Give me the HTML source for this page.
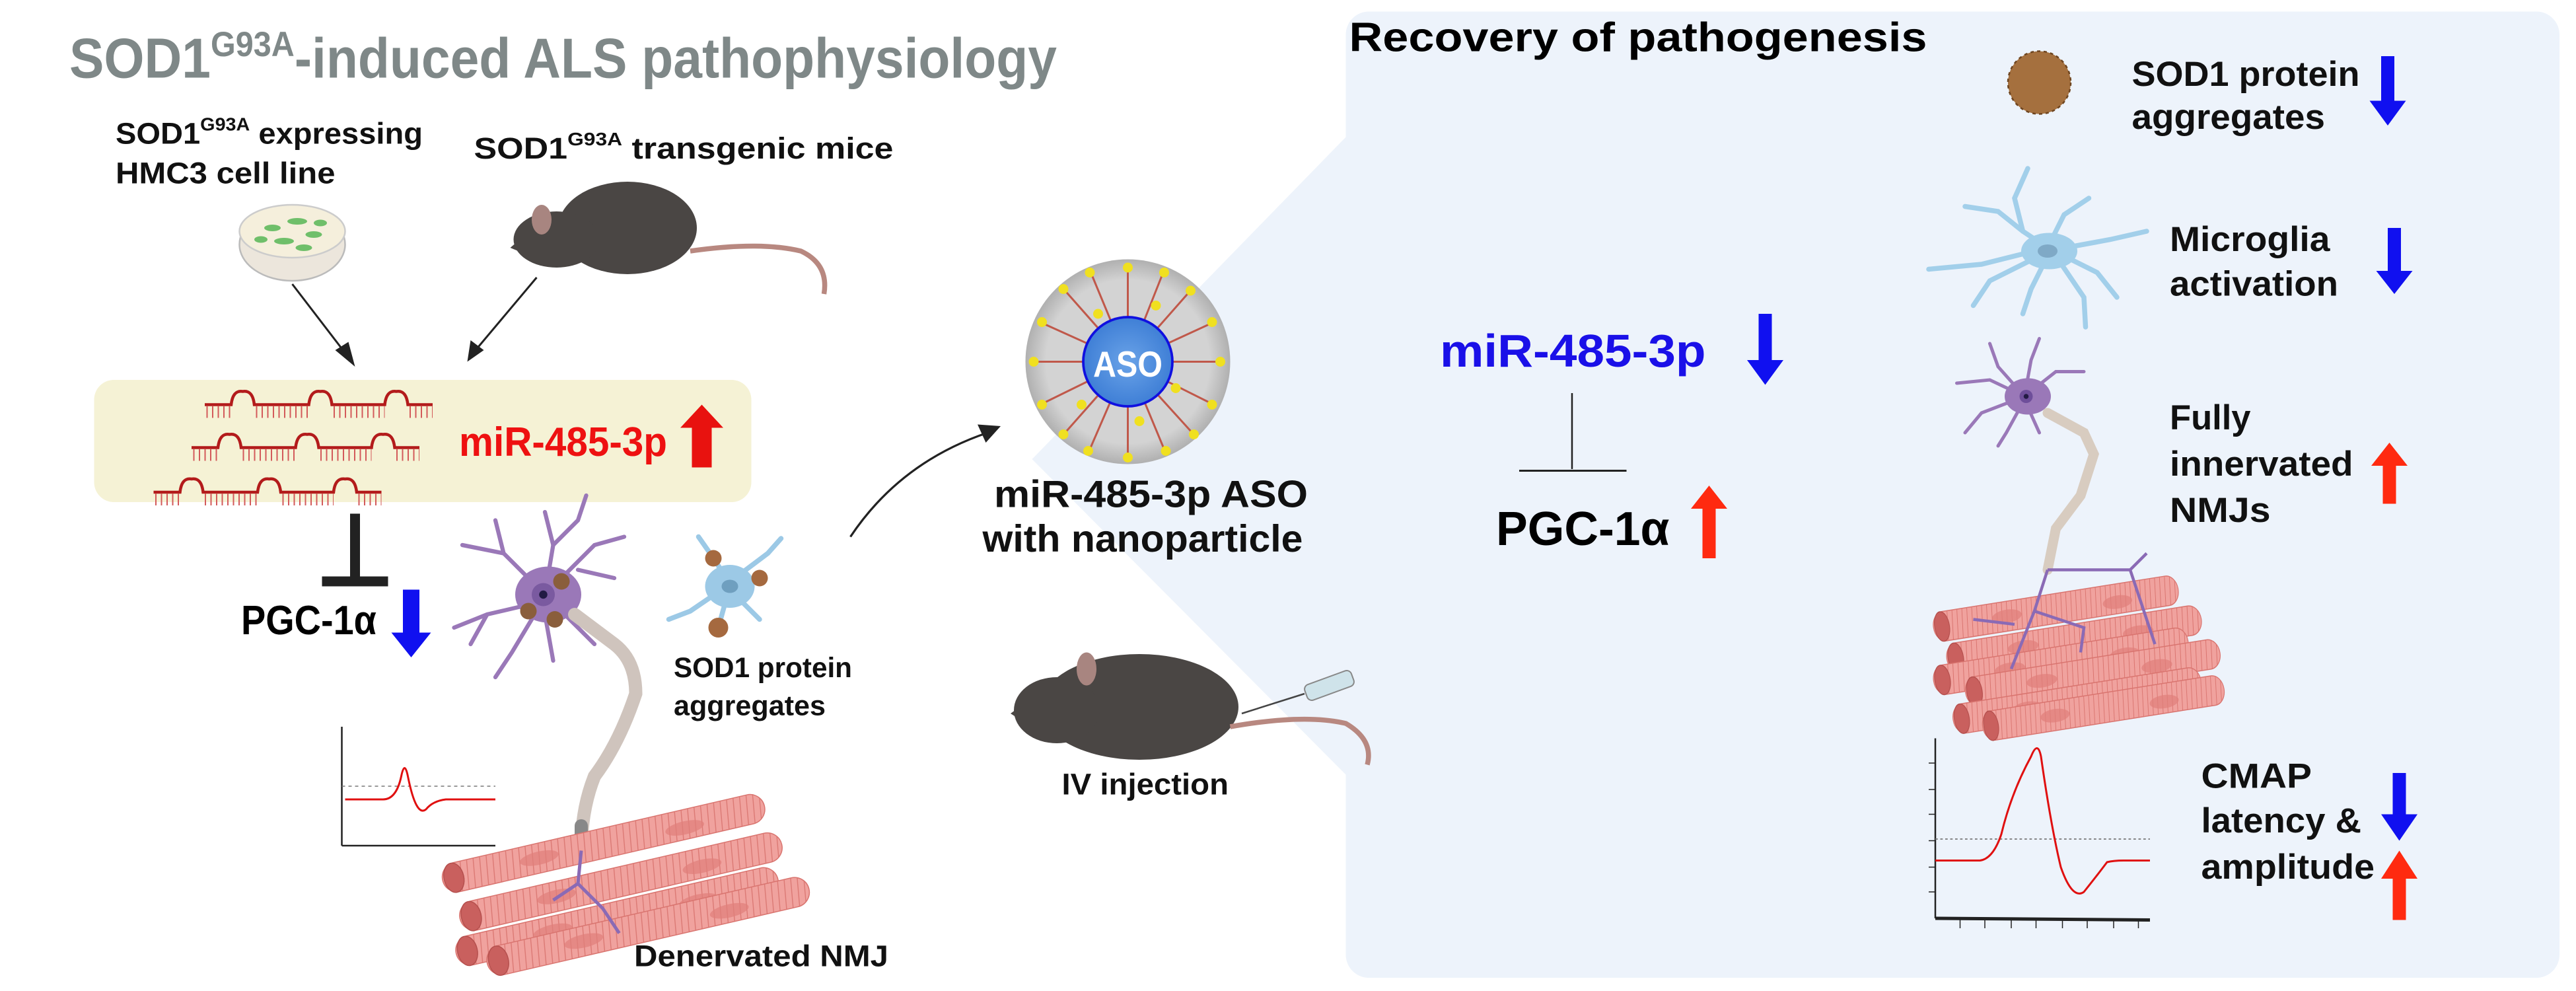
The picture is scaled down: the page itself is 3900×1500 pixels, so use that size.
<!DOCTYPE html>
<html><head><meta charset="utf-8"><style>
html,body{margin:0;padding:0;background:#fff;}
svg{display:block;}
text{font-family:"Liberation Sans Narrow","Liberation Sans",sans-serif;font-weight:bold;}
</style></head><body>
<svg width="3900" height="1500" viewBox="0 0 1560 600" xmlns="http://www.w3.org/2000/svg">
<defs>
<pattern id="stripe" width="4" height="10" patternUnits="userSpaceOnUse" patternTransform="rotate(8)">
<rect width="4" height="10" fill="#f0a29e"/><line x1="3.5" y1="0" x2="3.5" y2="10" stroke="#d9746f" stroke-width="0.5"/>
</pattern>
<g id="fib">
<rect x="0" y="-9" width="200" height="18" rx="9" fill="url(#stripe)" stroke="#d9746f" stroke-width="0.6"/>
<ellipse cx="60" cy="0" rx="12" ry="4" fill="#e07f7a" opacity="0.7"/>
<ellipse cx="150" cy="2" rx="12" ry="4" fill="#e07f7a" opacity="0.7"/>
<ellipse cx="7" cy="0" rx="6" ry="9" fill="#c9605e" stroke="#b5504e" stroke-width="0.6"/>
</g>
<g id="rna" fill="none" stroke="#b31b1b">
<path d="M0 0 H16 Q17 -9 23 -8 Q29 -9 30 0 H63 Q64 -9 70 -8 Q76 -9 77 0 H109 Q110 -9 116 -8 Q122 -9 123 0 H138" stroke-width="1.8"/>
<path d="M1 4.5 H16 M31 4.5 H63 M78 4.5 H109 M124 4.5 H138" stroke="#d35a5a" stroke-width="7" stroke-dasharray="0.8 2.6"/>
</g>
<radialGradient id="np" cx="50%" cy="50%" r="50%"><stop offset="0.8" stop-color="#d3d3d3"/><stop offset="1" stop-color="#b0b0b0"/></radialGradient>
<radialGradient id="core" cx="50%" cy="50%" r="50%"><stop offset="0" stop-color="#6aa3e8"/><stop offset="1" stop-color="#3f7fd6"/></radialGradient>
</defs>

<polygon points="625,278 816,82 816,470" fill="#edf3fb"/>
<rect x="815" y="7" width="735" height="585" rx="14" fill="#edf3fb"/>

<text x="42" y="47" font-size="34" fill="#7f8888" textLength="598" lengthAdjust="spacingAndGlyphs">SOD1<tspan font-size="21" dy="-13">G93A</tspan><tspan dy="13">-induced ALS pathophysiology</tspan></text>

<text x="70" y="87" font-size="18" fill="#111" textLength="186" lengthAdjust="spacingAndGlyphs">SOD1<tspan font-size="11" dy="-8">G93A</tspan><tspan dy="8"> expressing</tspan></text>
<text x="70" y="111" font-size="18" fill="#111" textLength="133" lengthAdjust="spacingAndGlyphs">HMC3 cell line</text>
<text x="287" y="96" font-size="18" fill="#111" textLength="254" lengthAdjust="spacingAndGlyphs">SOD1<tspan font-size="11" dy="-8">G93A</tspan><tspan dy="8">  transgenic mice</tspan></text>

<ellipse cx="177" cy="148" rx="32" ry="22" fill="#ece6dc" stroke="#bbb" stroke-width="1"/>
<ellipse cx="177" cy="140" rx="32" ry="16" fill="#f5efdc" stroke="#ccc" stroke-width="1"/>
<g fill="#6fbf6a"><ellipse cx="165" cy="138" rx="5" ry="2"/><ellipse cx="180" cy="134" rx="6" ry="2"/><ellipse cx="190" cy="142" rx="5" ry="2"/><ellipse cx="172" cy="146" rx="6" ry="2"/><ellipse cx="158" cy="145" rx="4" ry="2"/><ellipse cx="194" cy="135" rx="4" ry="2"/><ellipse cx="184" cy="150" rx="5" ry="2"/></g>

<!-- top mouse -->
<g fill="#4a4644">
<ellipse cx="380" cy="138" rx="42" ry="28"/>
<ellipse cx="337" cy="145" rx="26" ry="17"/>
<polygon points="309,150 330,132 338,162"/>
</g>
<ellipse cx="328" cy="133" rx="6" ry="9" fill="#a88580"/>
<path d="M418 152 Q460 146 485 152 Q502 160 499 178" fill="none" stroke="#b88880" stroke-width="3"/>

<line x1="177" y1="172" x2="210" y2="215" stroke="#222" stroke-width="1.2"/>
<polygon points="215,222 203,212 211,207" fill="#222"/>
<line x1="325" y1="168" x2="288" y2="212" stroke="#222" stroke-width="1.2"/>
<polygon points="283,219 285,206 293,212" fill="#222"/>

<rect x="57" y="230" width="398" height="74" rx="12" fill="#f5f2d5"/>
<use href="#rna" x="124" y="245"/>
<use href="#rna" x="116" y="271"/>
<use href="#rna" x="93" y="298"/>
<text x="278" y="276" font-size="25" fill="#ee1111" textLength="126" lengthAdjust="spacingAndGlyphs">miR-485-3p</text>
<polygon points="419,283 419,259 412,259 425,245 438,259 431,259 431,283" fill="#e8120f"/>

<rect x="212" y="311" width="6" height="38" fill="#222"/>
<rect x="195" y="349" width="40" height="6" fill="#222"/>
<text x="146" y="384" font-size="25" fill="#000" textLength="82" lengthAdjust="spacingAndGlyphs">PGC-1α</text>
<polygon points="244,357 254,357 254,383 261,383 249,398 237,383 244,383" fill="#1010f0"/>

<g stroke="#9a78b8" stroke-width="2.5" fill="none" stroke-linecap="round">
<path d="M330 360 L305 335 L280 330"/><path d="M305 335 L300 315"/>
<path d="M330 360 L335 330 L330 310"/><path d="M335 330 L350 315 L355 300"/>
<path d="M335 355 L360 330 L378 325"/><path d="M350 345 L372 350"/>
<path d="M325 365 L295 372 L275 380"/><path d="M295 372 L285 390"/>
<path d="M325 370 L310 395 L300 410"/><path d="M330 372 L335 400"/>
<path d="M340 370 L360 390"/>
</g>
<ellipse cx="332" cy="360" rx="20" ry="17" fill="#9a78b8"/>
<circle cx="329" cy="360" r="7" fill="#7a5aa0"/><circle cx="329" cy="360" r="2.5" fill="#221a44"/>
<circle cx="320" cy="370" r="5" fill="#8a5e3c"/><circle cx="340" cy="352" r="5" fill="#8a5e3c"/><circle cx="336" cy="375" r="5" fill="#8a5e3c"/>
<path d="M348 372 L372 390 Q385 400 385 420 Q375 450 360 470 Q352 490 352 515" fill="none" stroke="#cfc4bd" stroke-width="8" stroke-linecap="round"/>
<path d="M352 500 L352 515" stroke="#888" stroke-width="8" stroke-linecap="round"/>
<g stroke="#9cc9e6" stroke-width="3" fill="none" stroke-linecap="round">
<path d="M440 355 L418 370 L405 375"/><path d="M440 350 L430 335 L423 325"/><path d="M445 350 L465 335 L473 326"/><path d="M445 360 L460 375"/><path d="M440 362 L435 380"/>
</g>
<ellipse cx="442" cy="355" rx="15" ry="13" fill="#9cc9e6"/>
<ellipse cx="442" cy="355" rx="5" ry="4" fill="#6f9fbf"/>
<circle cx="432" cy="338" r="5" fill="#a5693f"/><circle cx="460" cy="350" r="5" fill="#a5693f"/><circle cx="435" cy="380" r="6" fill="#a5693f"/>
<text x="408" y="410" font-size="17" fill="#111" textLength="108" lengthAdjust="spacingAndGlyphs">SOD1 protein</text>
<text x="408" y="433" font-size="17" fill="#111" textLength="92" lengthAdjust="spacingAndGlyphs">aggregates</text>

<g stroke="#222" stroke-width="1"><line x1="207" y1="440" x2="207" y2="512"/><line x1="207" y1="512" x2="300" y2="512"/></g>
<line x1="207" y1="476" x2="300" y2="476" stroke="#777" stroke-width="0.6" stroke-dasharray="2 2"/>
<path d="M209 484 H232 Q240 484 243 470 Q245 460 247 470 Q252 495 258 490 Q262 485 270 484 H300" fill="none" stroke="#e01010" stroke-width="1.2"/>

<g transform="rotate(-13 370 530)">
<use href="#fib" x="270" y="510"/>
<use href="#fib" x="275" y="535"/>
<use href="#fib" x="268" y="555"/>
<use href="#fib" x="285" y="565"/>
</g>
<path d="M352 515 L350 535 L335 545 M350 535 L365 550 L375 565" fill="none" stroke="#8a6ab5" stroke-width="2"/>
<text x="384" y="585" font-size="18" fill="#111" textLength="154" lengthAdjust="spacingAndGlyphs">Denervated NMJ</text>

<path d="M515 325 Q545 280 598 262" fill="none" stroke="#222" stroke-width="1.3"/>
<polygon points="606,258 592,257 597,268" fill="#222"/>

<circle cx="683" cy="219" r="62" fill="url(#np)"/>
<g stroke="#c0584a" stroke-width="1.2">
<line x1="683" y1="219" x2="683" y2="163"/><line x1="683" y1="219" x2="720" y2="177"/><line x1="683" y1="219" x2="738" y2="219"/><line x1="683" y1="219" x2="722" y2="262"/><line x1="683" y1="219" x2="683" y2="276"/><line x1="683" y1="219" x2="645" y2="262"/><line x1="683" y1="219" x2="627" y2="219"/><line x1="683" y1="219" x2="645" y2="176"/>
<line x1="683" y1="219" x2="704" y2="166"/><line x1="683" y1="219" x2="733" y2="196"/><line x1="683" y1="219" x2="733" y2="244"/><line x1="683" y1="219" x2="705" y2="272"/><line x1="683" y1="219" x2="660" y2="272"/><line x1="683" y1="219" x2="632" y2="244"/><line x1="683" y1="219" x2="632" y2="196"/><line x1="683" y1="219" x2="661" y2="166"/>
</g>
<g fill="#f0e020">
<circle cx="683" cy="162" r="3"/><circle cx="721" cy="176" r="3"/><circle cx="739" cy="219" r="3"/><circle cx="723" cy="263" r="3"/><circle cx="683" cy="277" r="3"/><circle cx="644" cy="263" r="3"/><circle cx="626" cy="219" r="3"/><circle cx="644" cy="175" r="3"/>
<circle cx="705" cy="165" r="3"/><circle cx="734" cy="195" r="3"/><circle cx="734" cy="245" r="3"/><circle cx="706" cy="273" r="3"/><circle cx="659" cy="273" r="3"/><circle cx="631" cy="245" r="3"/><circle cx="631" cy="195" r="3"/><circle cx="660" cy="165" r="3"/>
<circle cx="700" cy="185" r="3"/><circle cx="665" cy="190" r="3"/><circle cx="712" cy="235" r="3"/><circle cx="655" cy="245" r="3"/><circle cx="690" cy="255" r="3"/>
</g>
<circle cx="683" cy="219" r="27" fill="url(#core)" stroke="#1010e0" stroke-width="1.5"/>
<text x="683" y="228" font-size="22" fill="#fff" text-anchor="middle" textLength="42" lengthAdjust="spacingAndGlyphs">ASO</text>
<text x="697" y="307" font-size="23" fill="#111" text-anchor="middle" textLength="190" lengthAdjust="spacingAndGlyphs">miR-485-3p ASO</text>
<text x="692" y="334" font-size="23" fill="#111" text-anchor="middle" textLength="194" lengthAdjust="spacingAndGlyphs">with nanoparticle</text>

<g fill="#4a4644">
<ellipse cx="690" cy="428" rx="60" ry="32"/>
<ellipse cx="640" cy="430" rx="26" ry="20"/>
<polygon points="612,432 635,415 640,450"/>
</g>
<ellipse cx="658" cy="405" rx="6" ry="10" fill="#a88580"/>
<path d="M745 440 Q790 432 815 438 Q832 448 828 463" fill="none" stroke="#b88880" stroke-width="3"/>
<line x1="752" y1="432" x2="790" y2="420" stroke="#444" stroke-width="1"/>
<rect x="790" y="410" width="30" height="10" rx="3" fill="#cfe3ea" stroke="#888" stroke-width="0.8" transform="rotate(-20 805 415)"/>
<text x="643" y="481" font-size="18" fill="#111" textLength="101" lengthAdjust="spacingAndGlyphs">IV injection</text>

<text x="817" y="31" font-size="25" fill="#000" textLength="350" lengthAdjust="spacingAndGlyphs">Recovery of pathogenesis</text>

<text x="872" y="222" font-size="28" fill="#1a10e8" textLength="161" lengthAdjust="spacingAndGlyphs">miR-485-3p</text>
<polygon points="1065,190 1073,190 1073,218 1080,218 1069,233 1058,218 1065,218" fill="#1010f0"/>
<line x1="952" y1="238" x2="952" y2="284" stroke="#222" stroke-width="1"/>
<line x1="920" y1="285" x2="985" y2="285" stroke="#222" stroke-width="1.2"/>
<text x="906" y="330" font-size="29" fill="#000" textLength="105" lengthAdjust="spacingAndGlyphs">PGC-1α</text>
<polygon points="1031,338 1039,338 1039,308 1046,308 1035,294 1024,308 1031,308" fill="#ff2a10"/>

<circle cx="1235" cy="50" r="19" fill="#a5703e"/>
<circle cx="1235" cy="50" r="19" fill="none" stroke="#6e4520" stroke-width="1" stroke-dasharray="2 2"/>
<text x="1291" y="52" font-size="21" fill="#111" textLength="138" lengthAdjust="spacingAndGlyphs">SOD1 protein</text>
<text x="1291" y="78" font-size="21" fill="#111" textLength="117" lengthAdjust="spacingAndGlyphs">aggregates</text>
<polygon points="1442,34 1450,34 1450,61 1457,61 1446,76 1435,61 1442,61" fill="#1010f0"/>

<g stroke="#a2cfea" stroke-width="3" fill="none" stroke-linecap="round">
<path d="M1240 150 L1225 140 L1210 128 L1190 125"/><path d="M1225 140 L1220 120 L1228 102"/><path d="M1240 150 L1250 130 L1265 120"/>
<path d="M1240 150 L1200 160 L1168 163"/><path d="M1240 150 L1270 165 L1282 180"/><path d="M1240 152 L1278 145 L1300 140"/>
<path d="M1240 155 L1230 175 L1225 190"/><path d="M1245 155 L1262 180 L1263 198"/><path d="M1235 155 L1205 170 L1195 185"/>
</g>
<ellipse cx="1241" cy="152" rx="17" ry="11" fill="#a2cfea"/>
<ellipse cx="1240" cy="152" rx="6" ry="4" fill="#7fa9c6"/>
<text x="1314" y="152" font-size="21" fill="#111" textLength="97" lengthAdjust="spacingAndGlyphs">Microglia</text>
<text x="1314" y="179" font-size="21" fill="#111" textLength="102" lengthAdjust="spacingAndGlyphs">activation</text>
<polygon points="1446,138 1454,138 1454,164 1461,164 1450,178 1439,164 1446,164" fill="#1010f0"/>

<g stroke="#9a78b8" stroke-width="2" fill="none" stroke-linecap="round">
<path d="M1226 240 L1205 230 L1185 232"/><path d="M1226 240 L1210 222 L1205 208"/><path d="M1226 240 L1230 218 L1235 205"/><path d="M1226 240 L1245 225 L1262 225"/>
<path d="M1226 240 L1200 250 L1190 262"/><path d="M1226 242 L1215 262 L1210 270"/><path d="M1226 242 L1235 262"/>
</g>
<ellipse cx="1228" cy="240" rx="14" ry="11" fill="#9a78b8"/>
<circle cx="1227" cy="240" r="4" fill="#6e4e9a"/><circle cx="1227" cy="240" r="1.5" fill="#221a44"/>
<path d="M1240 250 L1262 262 L1268 275 L1260 300 L1245 320 L1240 345" fill="none" stroke="#d8ccc0" stroke-width="6" stroke-linecap="round"/>
<g transform="rotate(-9 1250 400)">
<g transform="translate(1175 368) scale(0.75 1)"><use href="#fib" x="0" y="0"/></g>
<g transform="translate(1180 388) scale(0.78 1)"><use href="#fib" x="0" y="0"/></g>
<g transform="translate(1170 400) scale(0.78 1)"><use href="#fib" x="0" y="0"/></g>
<g transform="translate(1188 410) scale(0.78 1)"><use href="#fib" x="0" y="0"/></g>
<g transform="translate(1178 425) scale(0.76 1)"><use href="#fib" x="0" y="0"/></g>
<g transform="translate(1195 432) scale(0.74 1)"><use href="#fib" x="0" y="0"/></g>
</g>
<path d="M1240 345 L1232 370 L1218 405 M1232 370 L1262 380 L1260 395 M1240 345 L1290 345 L1300 335 M1290 345 L1300 375 L1305 390 M1220 378 L1195 375" fill="none" stroke="#8a6ab5" stroke-width="1.8"/>
<text x="1314" y="260" font-size="21" fill="#111" textLength="49" lengthAdjust="spacingAndGlyphs">Fully</text>
<text x="1314" y="288" font-size="21" fill="#111" textLength="111" lengthAdjust="spacingAndGlyphs">innervated</text>
<text x="1314" y="316" font-size="21" fill="#111" textLength="61" lengthAdjust="spacingAndGlyphs">NMJs</text>
<polygon points="1443,305 1451,305 1451,282 1458,282 1447,268 1436,282 1443,282" fill="#ff2a10"/>

<!-- right graph -->
<g stroke="#222" stroke-width="1"><line x1="1172" y1="447" x2="1172" y2="556"/><line x1="1172" y1="556" x2="1302" y2="557" stroke-width="2"/></g>
<g stroke="#222" stroke-width="0.6">
<line x1="1168" y1="462" x2="1172" y2="462"/><line x1="1168" y1="478" x2="1172" y2="478"/><line x1="1168" y1="493" x2="1172" y2="493"/><line x1="1168" y1="509" x2="1172" y2="509"/><line x1="1168" y1="525" x2="1172" y2="525"/><line x1="1168" y1="540" x2="1172" y2="540"/>
<line x1="1187" y1="557" x2="1187" y2="562"/><line x1="1202" y1="557" x2="1202" y2="562"/><line x1="1218" y1="557" x2="1218" y2="562"/><line x1="1233" y1="557" x2="1233" y2="562"/><line x1="1249" y1="557" x2="1249" y2="562"/><line x1="1264" y1="557" x2="1264" y2="562"/><line x1="1280" y1="557" x2="1280" y2="562"/><line x1="1295" y1="557" x2="1295" y2="562"/>
</g>
<line x1="1172" y1="508" x2="1302" y2="508" stroke="#777" stroke-width="0.7" stroke-dasharray="1.5 1.5"/>
<path d="M1172 521 H1199 Q1207 520 1212 505 Q1218 480 1230 458 Q1234 448 1236 458 Q1242 500 1248 525 Q1255 545 1262 540 Q1270 530 1276 522 Q1280 521 1286 521 H1302" fill="none" stroke="#e01010" stroke-width="1.2"/>
<text x="1333" y="477" font-size="21" fill="#111" textLength="67" lengthAdjust="spacingAndGlyphs">CMAP</text>
<text x="1333" y="504" font-size="21" fill="#111" textLength="97" lengthAdjust="spacingAndGlyphs">latency &amp;</text>
<text x="1333" y="532" font-size="21" fill="#111" textLength="105" lengthAdjust="spacingAndGlyphs">amplitude</text>
<polygon points="1449,468 1457,468 1457,493 1464,493 1453,509 1442,493 1449,493" fill="#1010f0"/>
<polygon points="1449,557 1457,557 1457,532 1464,532 1453,515 1442,532 1449,532" fill="#ff2a10"/>
</svg>
</body></html>
